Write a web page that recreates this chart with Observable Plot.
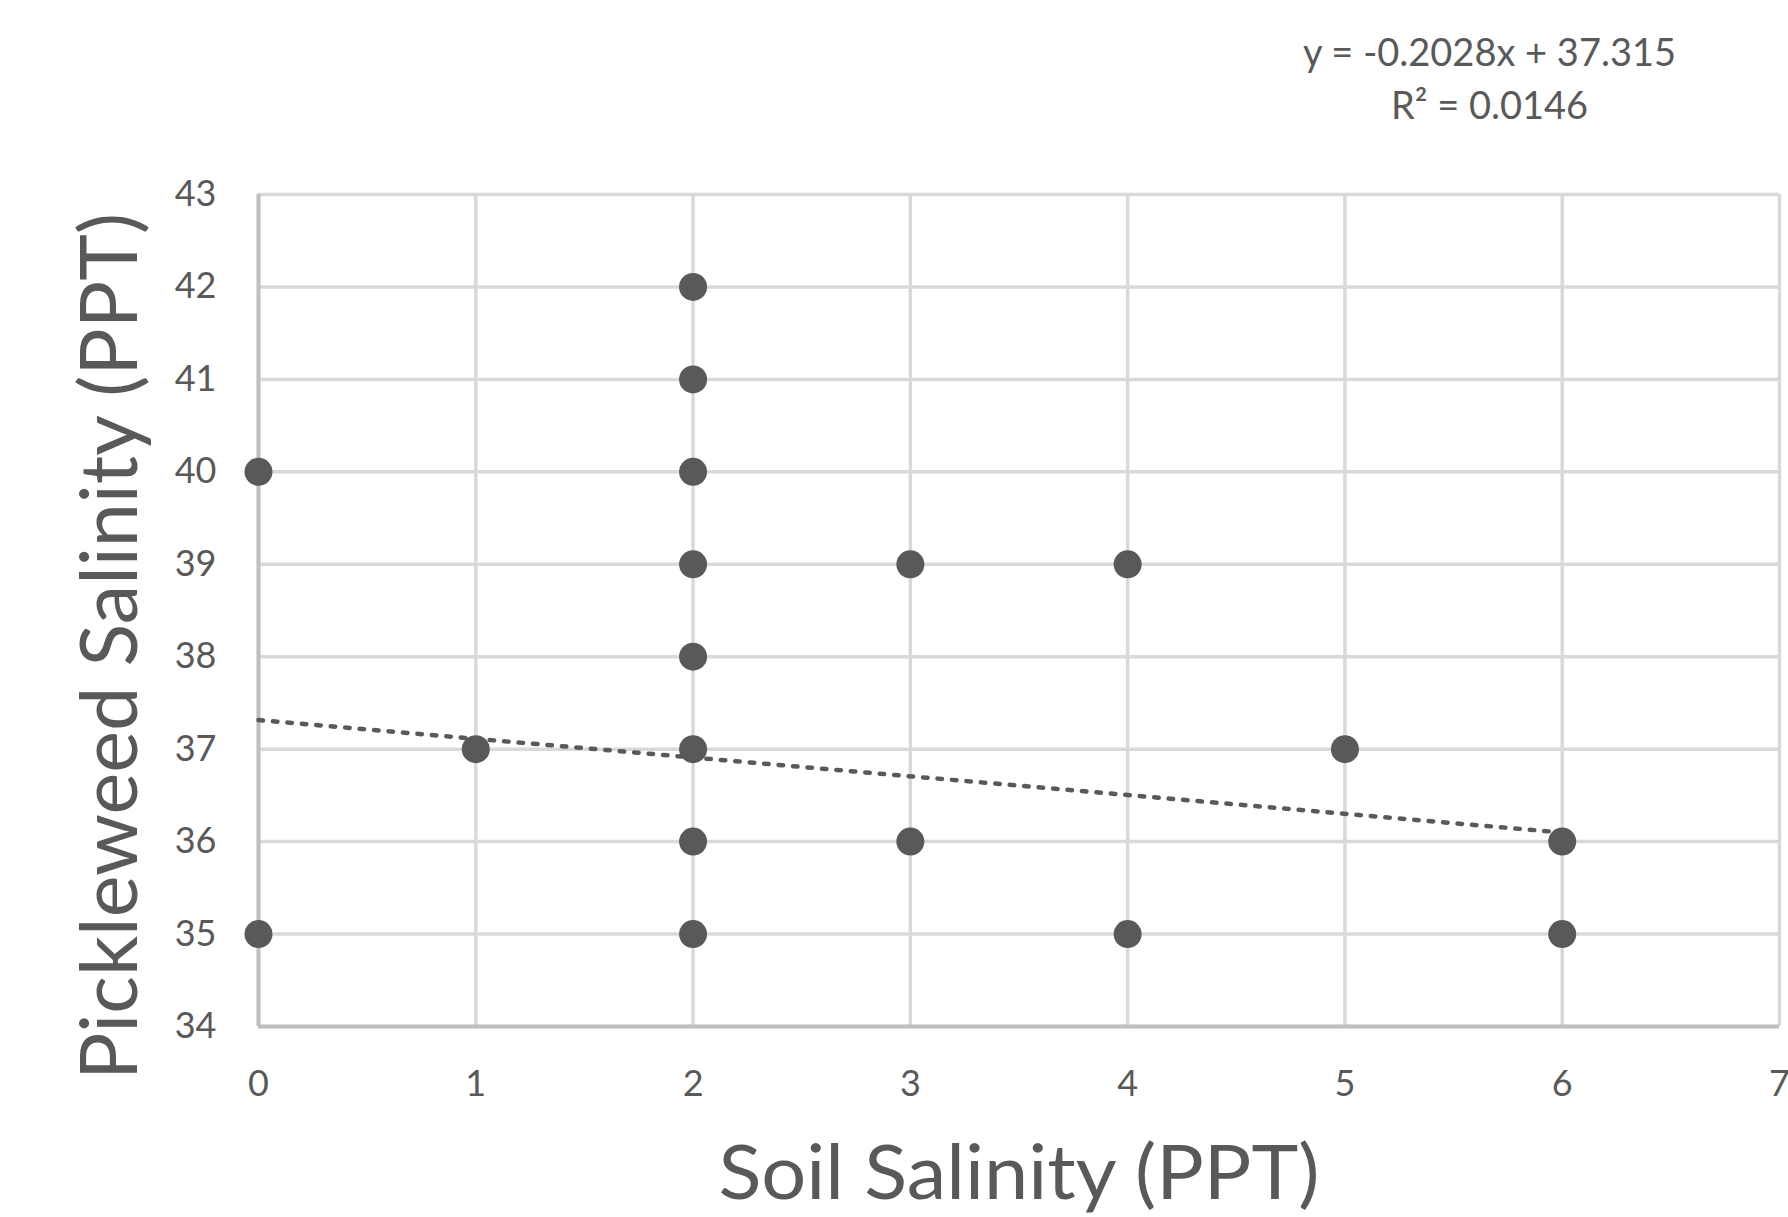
<!DOCTYPE html>
<html>
<head>
<meta charset="utf-8">
<script src="https://cdn.jsdelivr.net/npm/d3@7"></script>
<script src="https://cdn.jsdelivr.net/npm/@observablehq/plot@0.6"></script>
<style>
  html, body { margin: 0; padding: 0; background: #fff; }
  #chart { position: relative; width: 1788px; height: 1217px; }
</style>
</head>
<body>
<div id="chart"></div>
<script>
// Data
const soilSalinity =       [0, 0, 1, 2, 2, 2, 2, 2, 2, 2, 2, 3, 3, 4, 4, 5, 6, 6];
const pickleweedSalinity = [40, 35, 37, 42, 41, 40, 39, 38, 37, 36, 35, 39, 36, 39, 35, 37, 36, 35];
const xTicks = [0, 1, 2, 3, 4, 5, 6, 7];
const yTicks = [34, 35, 36, 37, 38, 39, 40, 41, 42, 43];
const trendSlope = -0.2028;
const trendIntercept = 37.315;
const trendR2 = 0.0146;
const trendXRange = [0, 6];
const xTitle = "Soil Salinity (PPT)";
const yTitle = "Pickleweed Salinity (PPT)";

const points = soilSalinity.map((x, i) => ({x, y: pickleweedSalinity[i]}));
const trend = trendXRange.map(x => ({x, y: trendSlope * x + trendIntercept}));

const gray = "#595959";
const gridColor = "#d9d9d9";

const plot = Plot.plot({
  width: 1788,
  height: 1217,
  marginLeft: 258,
  marginRight: 9,
  marginTop: 194,
  marginBottom: 191,
  style: {background: "#fff", fontFamily: "Lato, 'Open Sans', sans-serif", color: gray},
  x: {domain: [0, 7], ticks: xTicks, label: null},
  y: {domain: [34, 43], ticks: yTicks, label: null},
  marks: [
    Plot.gridX(xTicks, {stroke: gridColor, strokeOpacity: 1, strokeWidth: 3.5}),
    Plot.gridY(yTicks, {stroke: gridColor, strokeOpacity: 1, strokeWidth: 3.5}),
    Plot.ruleX([0], {stroke: "#bfbfbf", strokeWidth: 4}),
    Plot.ruleY([34], {stroke: "#bfbfbf", strokeWidth: 4}),
    Plot.axisX({ticks: xTicks, tickSize: 0, tickPadding: 44, fontSize: 36, fill: gray, label: null, tickFormat: d3.format("d")}),
    Plot.axisY({ticks: yTicks, tickSize: 0, tickPadding: 42, fontSize: 36, fill: gray, label: null, tickFormat: d3.format("d")}),
    Plot.line(trend, {x: "x", y: "y", stroke: gray, strokeWidth: 4.5, strokeDasharray: "4.5 10"}),
    Plot.dot(points, {x: "x", y: "y", r: 14, fill: gray, stroke: "none"}),
    Plot.text([xTitle], {frameAnchor: "bottom", dy: 172, text: d => d, fontSize: 76, fill: gray, className: "xtitle", lineAnchor: "bottom"}),
    Plot.text([yTitle], {frameAnchor: "left", dx: -147, dy: 36, rotate: -90, text: d => d, fontSize: 80, fill: gray, className: "ytitle", textAnchor: "middle"}),
    Plot.text([`y = ${trendSlope}x + ${trendIntercept}`], {frameAnchor: "top-right", dx: -290, dy: -155, text: d => d, fontSize: 38, fill: gray, textAnchor: "middle", className: "eq"}),
    Plot.text([`R² = ${trendR2}`], {frameAnchor: "top-right", dx: -290, dy: -102, text: d => d, fontSize: 38, fill: gray, textAnchor: "middle", className: "eq"})
  ]
});

document.getElementById("chart").appendChild(plot);

// Condense the axis titles as in the reference
d3.select(plot).selectAll(".xtitle text").attr("textLength", 601).attr("lengthAdjust", "spacingAndGlyphs");
d3.select(plot).selectAll(".ytitle text").attr("textLength", 867).attr("lengthAdjust", "spacingAndGlyphs");
</script>
</body>
</html>
